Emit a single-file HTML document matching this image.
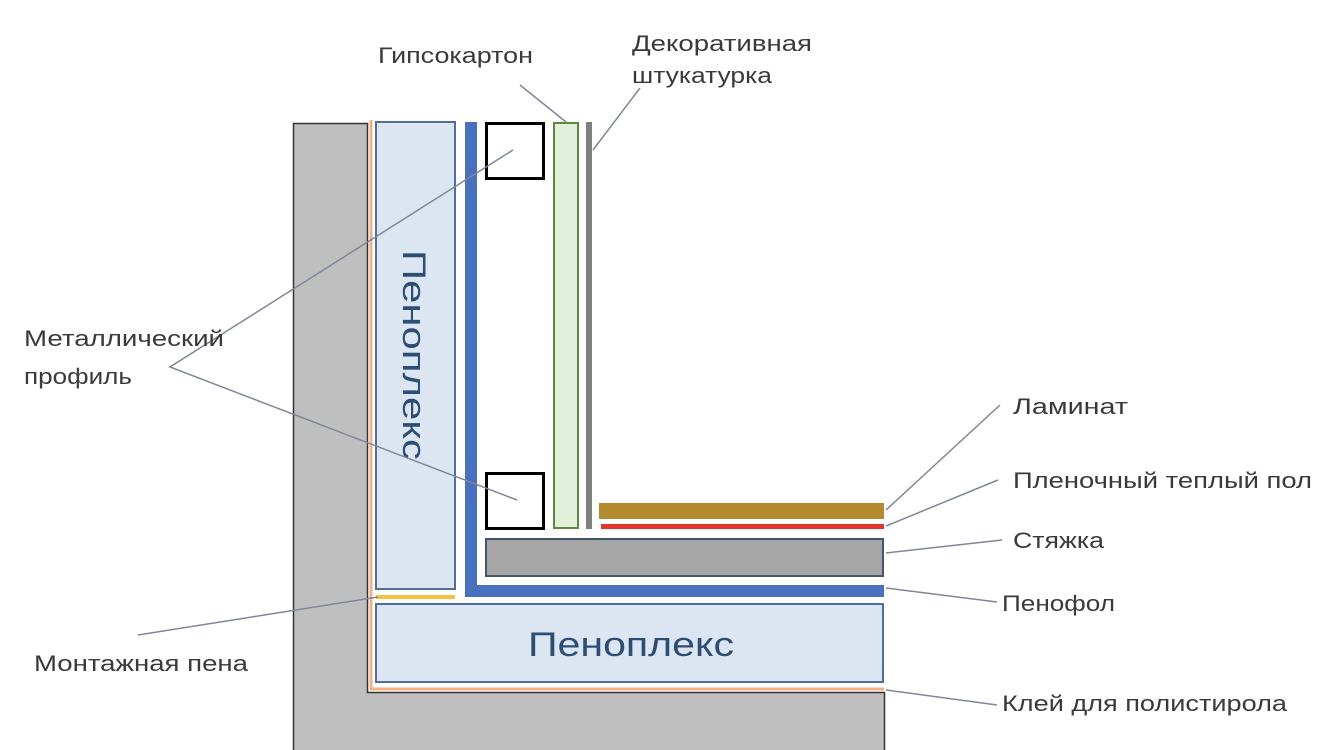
<!DOCTYPE html>
<html><head><meta charset="utf-8"><style>html,body{margin:0;padding:0;background:#fff}svg{display:block}text{font-family:"Liberation Sans",sans-serif;fill:#3a3a3a}</style></head>
<body>
<svg width="1334" height="750" viewBox="0 0 1334 750" xmlns="http://www.w3.org/2000/svg">
<path d="M293.5,750 L293.5,123.5 L367.5,123.5 L367.5,692.5 L884.5,692.5 L884.5,750" fill="#bfbfbf" stroke="#333" stroke-width="1.5"/>
<path d="M371,120 L371,689 L884,689" fill="none" stroke="#f4b183" stroke-width="3"/>
<rect x="376" y="122" width="79" height="467" fill="#dce6f2" stroke="#4f6f9a" stroke-width="2"/>
<text x="0" y="0" font-size="32" transform="translate(403,250) rotate(90)" style="fill:#2e4d73" textLength="210" lengthAdjust="spacingAndGlyphs">Пеноплекс</text>
<rect x="376" y="595" width="79" height="4" fill="#f5bf3f"/>
<rect x="376" y="604" width="507" height="78" fill="#dce6f2" stroke="#4f6f9a" stroke-width="2"/>
<text x="528" y="656" font-size="34" style="fill:#2e4d73" textLength="206" lengthAdjust="spacingAndGlyphs">Пеноплекс</text>
<path d="M471,122 L471,591 L884,591" fill="none" stroke="#4a70c0" stroke-width="12"/>
<rect x="486.5" y="123.5" width="57" height="55" fill="#fff" stroke="#000" stroke-width="3"/>
<rect x="486.5" y="473.5" width="57" height="55" fill="#fff" stroke="#000" stroke-width="3"/>
<rect x="554" y="123" width="24" height="405" fill="#e2efda" stroke="#5b8a3a" stroke-width="2"/>
<rect x="586" y="122" width="6" height="407" fill="#808080"/>
<rect x="599" y="503" width="285" height="16" fill="#b58b30"/>
<rect x="601" y="524" width="283" height="5" fill="#e0352b"/>
<rect x="486" y="539" width="397" height="37" fill="#a6a6a6" stroke="#44546a" stroke-width="2"/>
<g stroke="#7f8796" stroke-width="1.5" fill="none">
<line x1="520" y1="85" x2="566" y2="122"/>
<line x1="640" y1="88" x2="593" y2="150"/>
<polyline points="513,150 170,367 517,500"/>
<line x1="1000" y1="405" x2="886" y2="510"/>
<line x1="998" y1="480" x2="886" y2="526"/>
<line x1="1002" y1="540" x2="886" y2="553"/>
<line x1="997" y1="602" x2="886" y2="588"/>
<line x1="138" y1="635" x2="378" y2="597"/>
<line x1="997" y1="705" x2="886" y2="690"/>
</g>
<g font-size="22">
<text x="378" y="63" textLength="155" lengthAdjust="spacingAndGlyphs">Гипсокартон</text>
<text x="632" y="51" textLength="180" lengthAdjust="spacingAndGlyphs">Декоративная</text>
<text x="632" y="83" textLength="140" lengthAdjust="spacingAndGlyphs">штукатурка</text>
<text x="24" y="346" textLength="200" lengthAdjust="spacingAndGlyphs">Металлический</text>
<text x="24" y="384" textLength="108" lengthAdjust="spacingAndGlyphs">профиль</text>
<text x="1013" y="414" textLength="115" lengthAdjust="spacingAndGlyphs">Ламинат</text>
<text x="1013" y="488" textLength="299" lengthAdjust="spacingAndGlyphs">Пленочный теплый пол</text>
<text x="1013" y="548" textLength="91" lengthAdjust="spacingAndGlyphs">Стяжка</text>
<text x="1002" y="611" textLength="113" lengthAdjust="spacingAndGlyphs">Пенофол</text>
<text x="34" y="671" textLength="214" lengthAdjust="spacingAndGlyphs">Монтажная пена</text>
<text x="1002" y="711" textLength="285" lengthAdjust="spacingAndGlyphs">Клей для полистирола</text>
</g>
</svg>
</body></html>
